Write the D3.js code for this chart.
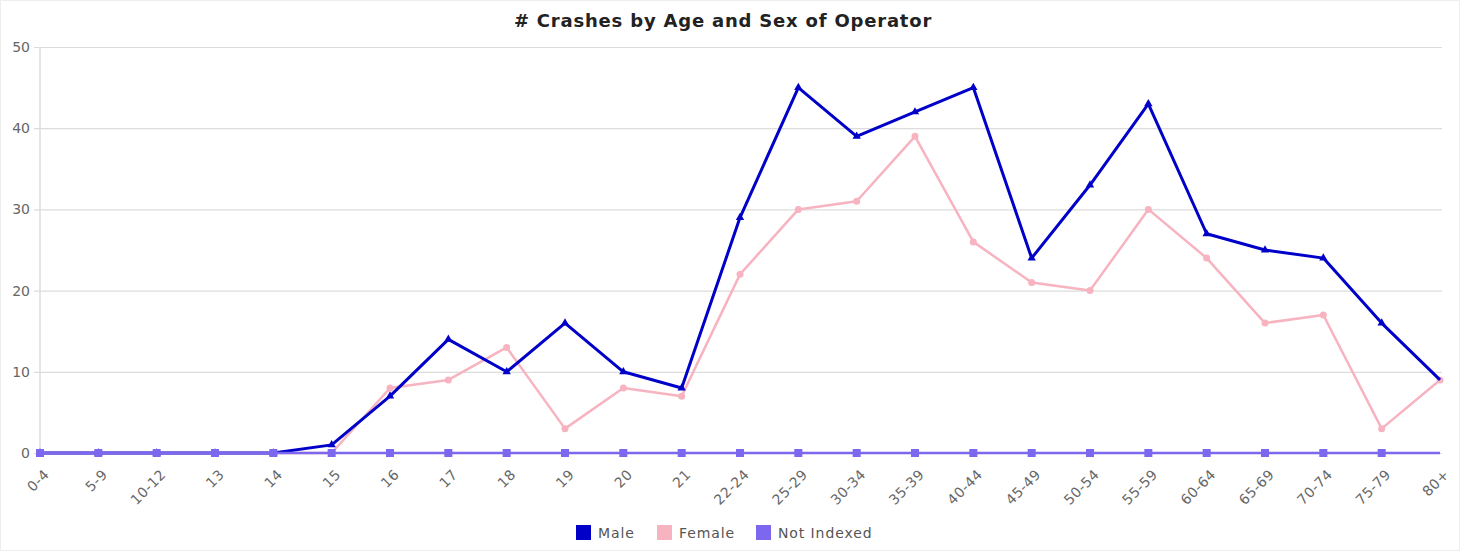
<!DOCTYPE html>
<html><head><meta charset="utf-8">
<script src="https://cdn.jsdelivr.net/npm/d3@7"></script>
<style>body{margin:0;background:#fff}svg{display:block}text{font-family:"DejaVu Sans",Verdana,sans-serif}</style>
</head><body><svg id="c" width="1460" height="554"></svg>
<script>
const categories=["0-4","5-9","10-12","13","14","15","16","17","18","19","20","21","22-24","25-29","30-34","35-39","40-44","45-49","50-54","55-59","60-64","65-69","70-74","75-79","80+"];
const male=[0,0,0,0,0,1,7,14,10,16,10,8,29,45,39,42,45,24,33,43,27,25,24,16,9];
const female=[0,0,0,0,0,0,8,9,13,3,8,7,22,30,31,39,26,21,20,30,24,16,17,3,9];
const notIndexed=[0,0,0,0,0,0,0,0,0,0,0,0,0,0,0,0,0,0,0,0,0,0,0,0,0];
const yTicks=[0,10,20,30,40,50];
const seriesNames=["Male","Female","Not Indexed"];
const colors=["#0000c8","#f7b3c0","#7b68ee"];

const svg=d3.select("#c");
svg.append("rect").attr("x",0.5).attr("y",0.5).attr("width",1459).attr("height",550).attr("fill","none").attr("stroke","#eeeeee");
const x=d3.scalePoint().domain(categories).range([40,1440]);
const y=d3.scaleLinear().domain([0,50]).range([453,47]);

svg.append("text").attr("x",723).attr("y",27).attr("text-anchor","middle").attr("font-size",18).attr("font-weight","bold").attr("letter-spacing",0.8).attr("fill","#222").text("# Crashes by Age and Sex of Operator");

const ya=svg.append("g").attr("transform","translate(40,0)").call(d3.axisLeft(y).tickValues(yTicks).tickSize(-1402).tickPadding(10));
ya.select(".domain").remove();
ya.selectAll(".tick line").attr("stroke","#dcdcdc").attr("x1",-6).attr("stroke-width",1.2);
ya.selectAll(".tick text").attr("fill","#666").attr("font-size",14);
svg.append("line").attr("x1",40).attr("x2",40).attr("y1",47).attr("y2",453).attr("stroke","#ddd").attr("stroke-width",1.5);

const xa=svg.append("g").attr("transform","translate(0,453)").call(d3.axisBottom(x).tickSize(0).tickPadding(0));
xa.select(".domain").remove();
xa.selectAll(".tick text").attr("fill","#666").attr("font-size",14).attr("letter-spacing",0.4).attr("text-anchor","end")
  .attr("y",0).attr("dy","0.35em")
  .attr("transform","translate(6,19) rotate(-45)");

const line=d3.line().x((d,i)=>x(categories[i])).y(d=>y(d));
const tri=d3.symbol().type(d3.symbolTriangle).size(30);

// female
svg.append("path").datum(female).attr("d",line).attr("fill","none").attr("stroke",colors[1]).attr("stroke-width",2.5).attr("stroke-linejoin","round");
svg.append("g").selectAll("circle").data(female).join("circle")
  .attr("cx",(d,i)=>x(categories[i])).attr("cy",d=>y(d)).attr("r",3.5).attr("fill",colors[1]);
// male
svg.append("path").datum(male).attr("d",line).attr("fill","none").attr("stroke",colors[0]).attr("stroke-width",3).attr("stroke-linejoin","round");
svg.append("g").selectAll("path").data(male.slice(0,-1)).join("path")
  .attr("d",tri).attr("transform",(d,i)=>`translate(${x(categories[i])},${y(d)})`).attr("fill",colors[0]);
// not indexed on top
svg.append("path").datum(notIndexed).attr("d",line).attr("fill","none").attr("stroke",colors[2]).attr("stroke-width",2.5);
svg.append("g").selectAll("rect").data(notIndexed.slice(0,-1)).join("rect")
  .attr("x",(d,i)=>x(categories[i])-4).attr("y",d=>y(d)-4).attr("width",8).attr("height",8).attr("fill",colors[2]);

// legend
const lg=svg.append("g");
const lx=[576,657,756];
seriesNames.forEach((n,i)=>{
  lg.append("rect").attr("x",lx[i]).attr("y",525).attr("width",15).attr("height",15).attr("fill",colors[i]);
  lg.append("text").attr("x",lx[i]+22).attr("y",538).attr("font-size",14).attr("letter-spacing",0.9).attr("fill","#555").text(n);
});
</script></body></html>
